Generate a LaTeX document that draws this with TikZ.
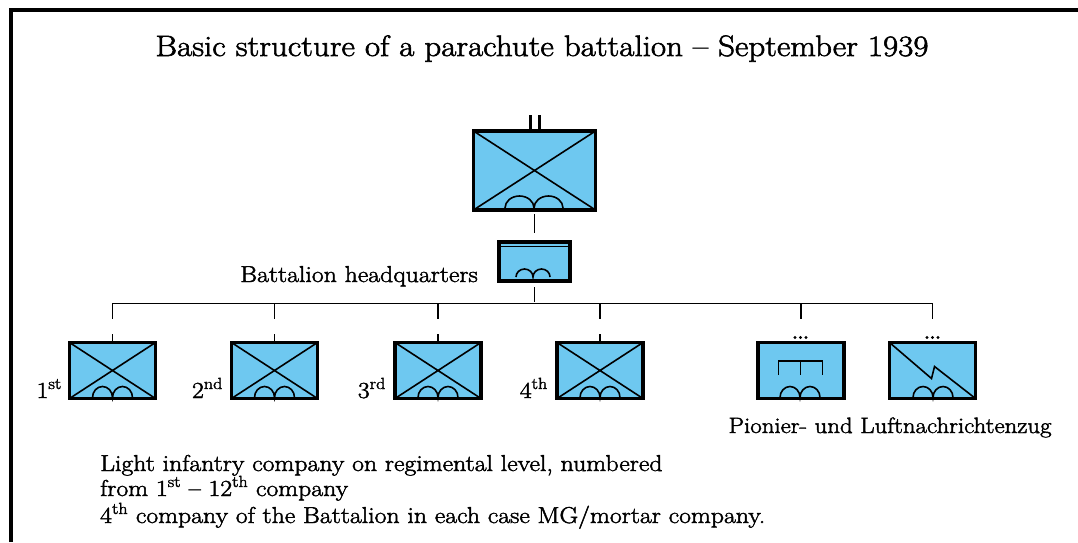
\documentclass[tikz,border=0pt]{standalone}
\usepackage{fontspec}
\setmainfont{Latin Modern Roman}[FakeStretch=1.12,FakeBold=2]
\definecolor{boxblue}{RGB}{110,200,240}
\newcommand{\engsym}[4]{%
  \draw[symb] (#1-#3,#2) arc[start angle=180,end angle=360,x radius=#3/2,y radius=#4]
                          arc[start angle=180,end angle=360,x radius=#3/2,y radius=#4];}
\tikzset{
  unitbox/.style={draw=black, fill=boxblue, line width=3.2pt, rectangle, outer sep=0pt, inner sep=0pt},
  company/.style={unitbox, minimum width=86pt, minimum height=56pt},
  crossed/.style={path picture={\draw[line width=1.6pt]
      (path picture bounding box.north west) -- (path picture bounding box.south east)
      (path picture bounding box.south west) -- (path picture bounding box.north east);}},
  conn/.style={line width=1.8pt},
  symb/.style={line width=1.6pt},
  txt/.style={font=\fontsize{23}{27}\selectfont, inner sep=0pt},
  lbl/.style={font=\fontsize{22.2}{26}\selectfont, inner sep=0pt},
  ttl/.style={font=\fontsize{29.5}{34}\selectfont, inner sep=0pt},
  dot/.style={fill=black, circle, inner sep=0pt, minimum size=3.2pt},
}
\begin{document}
\begin{tikzpicture}[x=1pt,y=-1pt]
\useasboundingbox (0,0) rectangle (1078,542);
% frame
\draw[line width=4pt] (11,542) -- (11,10) -- (1078,10);
% title
\node[ttl, anchor=base] (title) at (542,56) {Basic structure of a parachute battalion -- September 1939};
% battalion
\node[unitbox, crossed, minimum width=122pt, minimum height=79pt] (bn) at (534.5,170.5) {};
\draw[line width=3pt] (530,115) -- (530,130) (539,115) -- (539,130);
\engsym{534}{208}{29}{12}
% HQ
\node[unitbox, minimum width=71pt, minimum height=39pt] (hq) at (534.5,261.5) {};
\draw[line width=1.2pt] (500,246.5) -- (569,246.5);
\engsym{533}{277}{17}{8}
\node[txt, anchor=base east] (hqlbl) at (478,282) {Battalion headquarters};
\draw[conn] ([yshift=-4pt]bn.south) -- ([yshift=9pt]hq.north);
% companies
\node[company, crossed] (c1) at (112.5,370.5) {};
\node[company, crossed] (c2) at (274.5,370.5) {};
\node[company, crossed] (c3) at (438,370.5) {};
\node[company, crossed] (c4) at (600,370.5) {};
\node[company] (pi) at (801,370.5) {};
\node[company, path picture={\draw[line width=1.6pt]
      (path picture bounding box.north west) -- ++(42,36) -- ++(3,-12) -- (path picture bounding box.south east);}] (sig) at (932.5,370.5) {};
\foreach \c/\x in {c1/112.5,c2/274.5,c3/438,c4/600}{
  \engsym{\x}{397.5}{20}{11}
  \draw[conn] (\c.north) -- ++(0,-9);
}
\engsym{800}{397.5}{20}{11}
\engsym{933}{397.5}{20}{11}
% pionier symbol
\draw[symb] (778.5,375) -- (778.5,361) -- (822.5,361) -- (822.5,375) (800.5,361) -- (800.5,375);
% dots
\foreach \x in {795,800.5,806}{\node[dot] at (\x,337.5) {};}
\foreach \x in {927,932.5,938}{\node[dot] at (\x,337.5) {};}
% connectors
\draw[conn] ([yshift=-6pt]hq.south) -- ++(0,15);
\draw[conn] ([yshift=24pt]c1.north) -- ([yshift=39pt]c1.north) -- ([yshift=39pt]sig.north) -- ([yshift=24pt]sig.north);
\foreach \c in {c2,c3,c4,pi}{\draw[conn] ([yshift=39pt]\c.north) -- ([yshift=24pt]\c.north);}
% labels
\node[txt, anchor=base east] (l1) at (62,398) {1\textsuperscript{st}};
\node[txt, anchor=base east] (l2) at (223,398) {2\textsuperscript{nd}};
\node[txt, anchor=base east] (l3) at (386,398) {3\textsuperscript{rd}};
\node[txt, anchor=base east] (l4) at (548,398) {4\textsuperscript{th}};
\node[lbl, anchor=base] (pilbl) at (890,433) {Pionier- und Luftnachrichtenzug};
% notes
\node[txt, anchor=base west] (n1) at (100,471) {Light infantry company on regimental level, numbered};
\node[txt, anchor=base west] (n2) at (100,496) {from 1\textsuperscript{st} -- 12\textsuperscript{th} company};
\node[txt, anchor=base west] (n3) at (100,523) {4\textsuperscript{th} company of the Battalion in each case MG/mortar company.};
\end{tikzpicture}
\end{document}
